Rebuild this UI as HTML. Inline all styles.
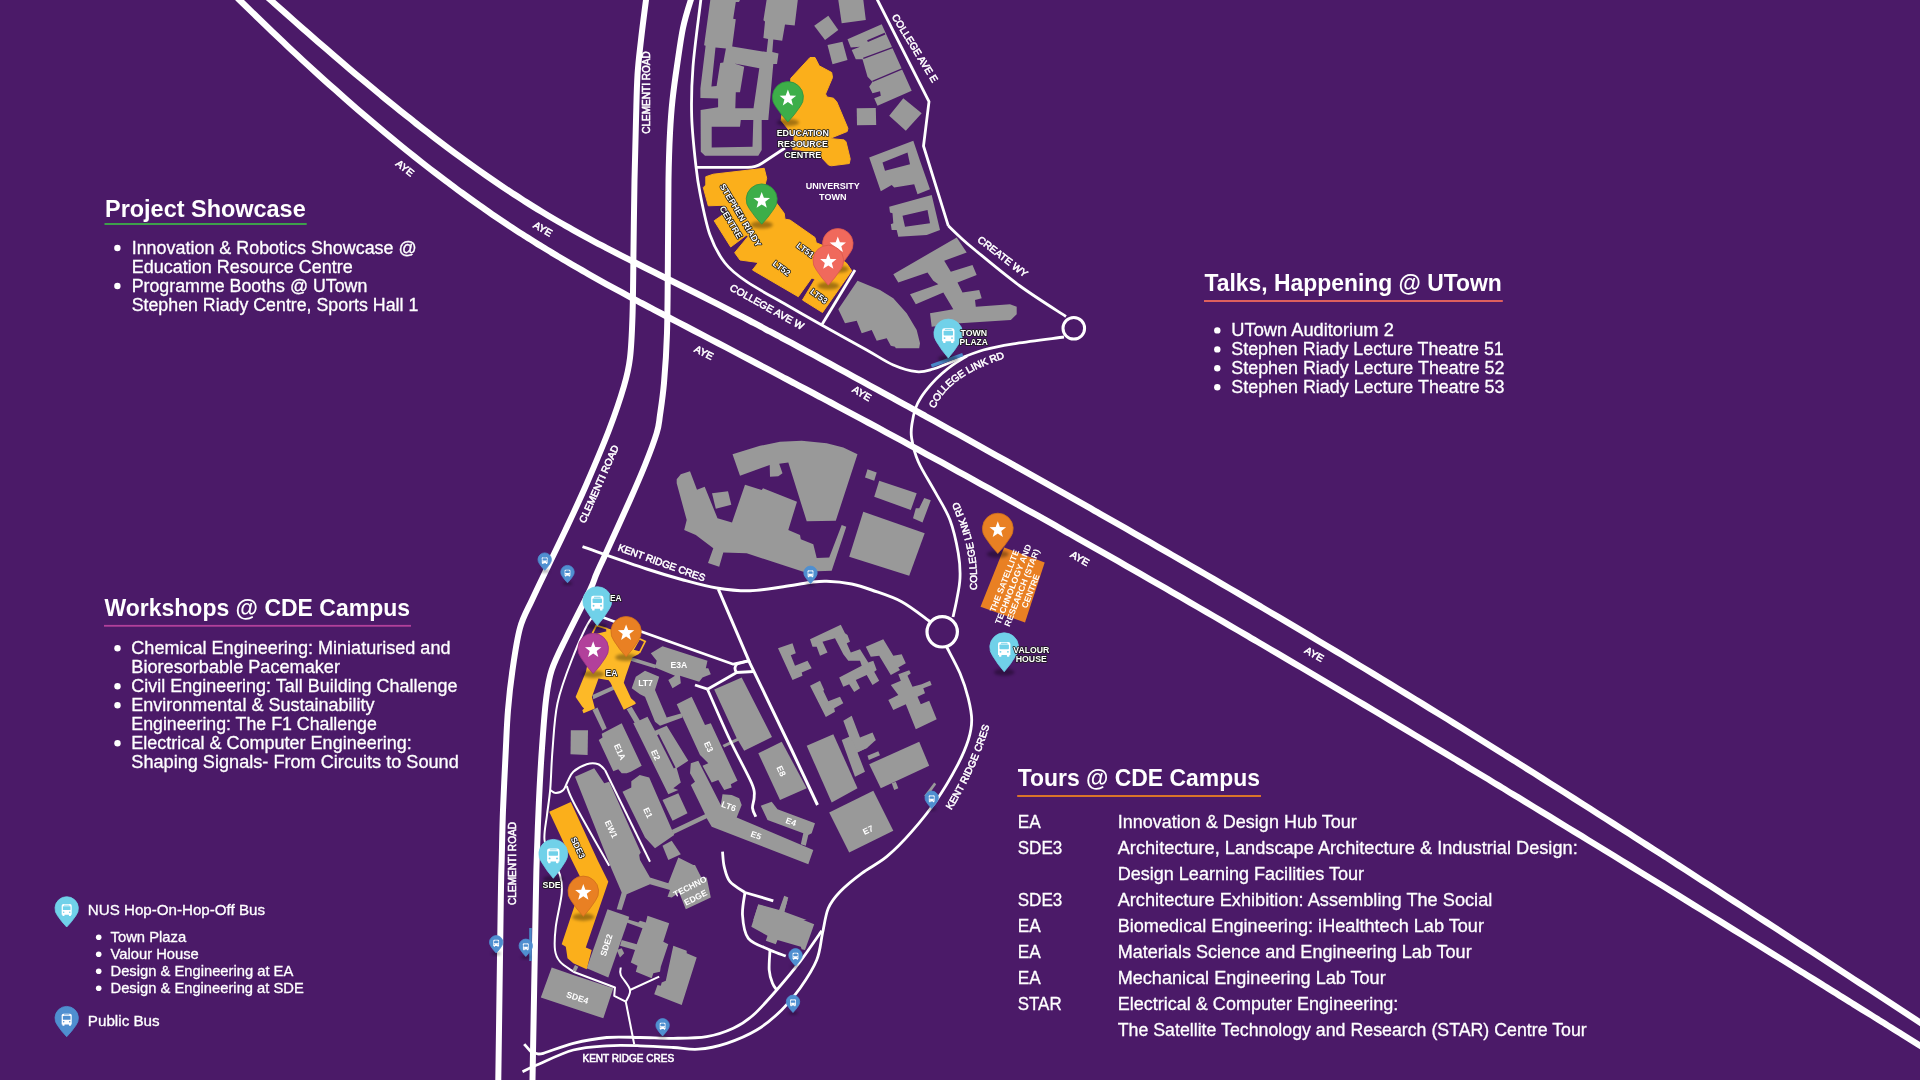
<!DOCTYPE html>
<html><head><meta charset="utf-8"><title>CDE Open House Map</title>
<style>html,body{margin:0;padding:0;background:#4B1A68;}body{width:1920px;height:1080px;overflow:hidden;font-family:"Liberation Sans",sans-serif;}svg{display:block;will-change:transform;}text{font-family:"Liberation Sans",sans-serif;}</style>
</head><body>
<svg width="1920" height="1080" viewBox="0 0 1920 1080">
<defs>
<filter id="blur1" x="-50%" y="-50%" width="200%" height="200%"><feGaussianBlur stdDeviation="1.6"/></filter>
<filter id="blur2" x="-50%" y="-50%" width="200%" height="200%"><feGaussianBlur stdDeviation="0.8"/></filter>
</defs>
<rect width="1920" height="1080" fill="#4B1A68"/>
<g id="grey">
<path d="M710.3 0.0 L704.1 45.3 L705.6 45.8 L700.4 88.5 L700.4 97.9 L718.1 98.4 L718.1 107.3 L700.6 110.0 L700.8 151.7 L705.0 155.8 L758.3 155.8 L761.7 150.0 L761.7 120.0 L768.3 120.0 L773.3 64.0 L777.0 64.1 L778.5 53.6 L772.3 52.1 L773.3 39.6 L782.2 40.8 L785.0 24.5 L794.7 25.5 L797.8 0.0 L766.6 0.0 L763.4 20.3 L765.0 21.4 L763.4 38.0 L768.1 39.1 L766.6 52.1 L732.2 46.4 L735.8 19.3 L733.2 18.8 L735.8 2.1 L739.0 2.1 L740.0 0.0 Z M715.5 47.4 L725.9 48.4 L723.3 62.5 L720.2 63.0 L716.6 85.9 L711.4 86.5 Z M734.3 63.5 L759.3 68.2 L753.5 108.3 L735.3 108.3 L735.8 92.2 L740.0 92.2 L744.2 66.7 Z M711.7 126.7 L740.0 126.7 L740.8 120.0 L753.3 120.0 L752.5 146.7 L711.7 147.5 Z" fill="#999999" fill-rule="evenodd"/>
<polygon points="814.2,25.8 828.3,15.8 838.3,30.0 825.0,40.0" fill="#999999" />
<polygon points="838.3,0.0 863.3,0.0 865.8,20.0 841.7,23.3" fill="#999999" />
<polygon points="827.5,45.0 842.5,41.7 847.5,60.0 832.5,64.2" fill="#999999" />
<polygon points="847.5,39.2 881.7,24.2 911.7,90.8 877.5,105.8 874.2,98.3 880.8,95.8 880.0,91.3 872.5,93.3 869.2,86.7 872.5,81.7 867.5,76.7 862.5,59.2 855.8,59.2 851.7,50.0 860.0,46.7 850.8,47.5" fill="#999999" />
<path d="M867.5 41.2 L885.0 33.7" fill="none" stroke="#4B1A68" stroke-width="1.80" stroke-linecap="butt" stroke-linejoin="round"/>
<path d="M863.3 58.3 L895.0 46.7" fill="none" stroke="#4B1A68" stroke-width="1.40" stroke-linecap="butt" stroke-linejoin="round"/>
<path d="M872.5 81.3 L903.3 68.3" fill="none" stroke="#4B1A68" stroke-width="1.40" stroke-linecap="butt" stroke-linejoin="round"/>
<polygon points="856.7,108.3 875.8,108.0 876.2,125.0 857.0,125.3" fill="#999999" />
<polygon points="889.2,115.8 903.3,98.3 921.7,113.3 905.8,130.8" fill="#999999" />
<path d="M869.2 157.5 L913.3 140.8 L920.0 160.8 L930.0 189.2 L917.5 194.2 L914.2 184.2 L894.2 187.5 L891.7 185.0 L880.8 191.3 Z M882.5 162.5 L907.5 152.5 L910.0 164.2 L885.0 170.8 Z" fill="#999999" fill-rule="evenodd"/>
<path d="M889.2 206.7 L931.7 195.0 L940.0 230.0 L926.7 235.0 L898.3 236.7 L896.7 230.0 L891.7 230.0 L890.8 224.2 L893.3 223.3 L892.5 213.3 L890.0 212.5 Z M902.5 215.8 L927.5 210.0 L930.0 223.3 L905.0 226.7 Z" fill="#999999" fill-rule="evenodd"/>
<polygon points="893.3,274.2 956.7,237.5 966.7,252.5 944.2,260.8 950.8,271.7 972.5,265.0 976.7,275.0 957.5,282.5 962.5,292.5 979.2,290.0 981.7,298.3 975.0,300.0 975.8,306.7 1010.0,304.2 1016.7,306.7 1016.7,314.2 1010.8,320.0 960.0,323.3 931.7,326.7 930.0,313.3 953.3,309.2 943.3,292.5 915.8,304.2 910.0,294.2 938.3,284.2 933.3,280.8 927.5,272.5 898.3,282.5" fill="#999999" />
<polygon points="838.3,309.2 857.5,280.8 880.0,290.0 893.3,298.3 906.7,313.3 916.7,330.0 920.0,343.3 919.2,348.3 895.8,348.3 895.0,346.7 890.8,345.8 886.7,338.3 876.7,340.8 871.7,330.0 861.7,333.3 856.7,320.8 845.0,323.3" fill="#999999" />
<polygon points="732.5,454.2 760.0,445.8 780.0,441.7 801.7,440.8 826.7,443.3 843.3,447.5 857.5,454.2 835.8,520.8 806.7,521.3 788.3,462.5 779.2,463.7 782.5,473.3 778.3,476.3 770.0,476.7 769.7,465.0 740.0,475.8" fill="#999999" />
<polygon points="676.7,479.2 680.8,474.2 690.0,471.3 697.0,489.7 704.7,486.7 717.5,518.3 732.0,522.5 745.0,484.7 761.7,490.0 763.0,488.3 797.0,501.7 788.3,530.0 800.0,535.0 800.8,539.2 813.3,544.2 816.7,558.0 829.2,557.5 841.7,525.0 846.3,526.7 831.7,570.8 803.3,571.7 746.7,553.3 723.3,552.5 719.2,566.7 708.0,563.0 713.3,548.3 695.8,535.0 684.2,530.0 686.7,520.0 676.7,483.3" fill="#999999" />
<polygon points="712.0,493.3 728.0,491.3 731.3,504.7 715.8,508.7" fill="#999999" />
<polygon points="867.5,469.2 876.7,472.5 874.2,480.8 865.0,477.5" fill="#999999" />
<polygon points="879.2,480.8 916.7,493.3 910.8,510.0 874.2,496.7" fill="#999999" />
<polygon points="924.2,498.0 930.8,500.3 922.5,522.5 913.0,518.3 915.8,508.3 919.2,508.3" fill="#999999" />
<polygon points="863.3,511.7 924.7,533.3 909.2,575.8 849.2,556.7" fill="#999999" />
<polygon points="778.0,648.3 792.5,643.3 795.8,653.3 790.8,655.3 795.0,665.8 807.5,660.8 811.7,668.3 801.7,672.5 802.5,675.8 792.5,680.0" fill="#999999" />
<polygon points="810.0,639.2 840.8,624.7 845.0,633.3 847.5,635.0 850.0,641.7 846.7,643.3 850.8,652.5 860.0,649.2 868.3,662.5 873.3,660.8 876.7,670.0 874.2,671.7 879.2,680.8 872.5,685.0 866.7,675.0 855.8,680.0 860.0,688.3 854.2,692.0 849.2,684.2 843.3,686.7 839.2,677.5 861.7,665.8 860.0,660.8 848.3,660.8 843.3,654.2 835.0,638.3 822.5,641.7 827.5,652.5 820.0,655.8 816.7,646.7 812.5,646.7" fill="#999999" />
<polygon points="865.8,646.7 883.3,639.2 893.3,655.8 901.7,654.2 905.8,663.3 898.3,667.5 900.0,670.0 890.8,675.0 879.2,655.8 870.8,656.7" fill="#999999" />
<polygon points="810.0,685.8 820.0,680.8 824.2,690.0 823.3,690.8 828.3,701.3 840.0,696.7 843.3,703.3 834.2,708.3 835.0,711.7 825.8,717.0" fill="#999999" />
<polygon points="898.3,674.2 909.2,670.3 910.8,673.3 907.5,675.8 912.5,686.7 921.7,684.2 930.0,680.8 931.7,685.0 923.3,688.3 925.0,693.3 917.5,696.7 920.8,704.2 929.2,700.8 936.7,719.2 915.8,729.2 905.8,704.2 893.3,710.0 888.3,700.0 898.3,695.0 890.8,685.0 900.8,680.8" fill="#999999" />
<polygon points="843.3,720.8 851.7,715.8 860.0,737.5 872.5,732.5 875.8,740.0 865.8,744.2 867.5,747.5 857.5,752.5 865.0,771.7 855.0,776.7 841.7,740.0 849.2,736.7" fill="#999999" />
<polygon points="650.8,653.3 662.5,646.3 707.5,660.8 705.8,668.3 708.3,668.3 710.8,674.2 702.5,677.5 699.2,681.7 680.0,675.8 680.8,683.3 672.5,688.3 668.3,680.0 675.0,675.8 655.0,667.5 656.7,660.8" fill="#999999" />
<polygon points="626.7,655.8 656.7,665.0 655.0,668.3 625.8,659.2" fill="#999999" />
<polygon points="631.7,688.3 635.8,676.7 645.0,670.8 659.2,676.7 655.0,690.0 666.7,717.5 681.7,713.3 682.5,717.5 660.0,725.8 655.0,721.7 645.0,696.7 640.0,694.2" fill="#999999" />
<polygon points="592.5,695.0 613.3,685.8 615.0,689.2 593.3,699.2" fill="#999999" />
<polygon points="570.8,730.2 588.0,730.2 587.6,755.0 570.5,754.3" fill="#999999" />
<polygon points="714.2,689.5 741.7,677.5 772.0,737.0 744.2,750.8 738.3,740.8 724.2,747.5 722.5,745.0 736.7,738.3" fill="#999999" />
<polygon points="598.7,740.0 602.5,737.5 601.7,733.7 621.7,723.3 641.7,765.8 630.8,771.7 626.7,773.3 621.7,773.3 618.3,769.2 613.3,771.3" fill="#999999" />
<polygon points="592.5,710.0 597.5,707.5 606.7,728.3 602.5,730.8" fill="#999999" />
<polygon points="626.7,709.2 631.7,706.7 640.0,720.8 635.0,723.3" fill="#999999" />
<polygon points="633.3,723.3 647.5,716.7 655.0,730.8 666.7,725.8 688.3,760.8 676.7,768.3 680.8,782.5 673.3,788.3 678.3,790.0 668.3,794.2" fill="#999999" />
<path d="M658.0 734.7 L674.7 768.0" fill="none" stroke="#4B1A68" stroke-width="2.00" stroke-linecap="butt" stroke-linejoin="round"/>
<polygon points="676.7,704.2 691.7,696.7 705.0,725.0 710.8,723.3 737.5,780.8 730.8,784.2 731.7,787.5 724.2,790.0 718.3,780.0 711.7,782.5 702.5,765.8 708.3,763.3 700.0,755.0" fill="#999999" />
<polygon points="690.8,763.3 698.3,760.8 720.8,805.0 722.5,794.2 731.7,795.0 739.2,798.3 741.7,805.0 736.7,817.5 813.3,850.0 808.3,864.2 711.7,826.7 706.7,818.3 673.3,834.2 671.7,830.0 705.0,814.2 690.8,785.0 695.0,781.7 690.0,773.3" fill="#999999" />
<polygon points="662.5,800.0 678.3,793.3 687.5,813.3 672.5,820.8" fill="#999999" />
<polygon points="662.5,845.8 671.7,840.8 680.8,854.2 668.3,860.0" fill="#999999" />
<polygon points="760.8,805.8 771.7,801.7 777.5,809.2 815.0,823.3 811.7,833.3 808.3,835.0 805.8,845.8 800.8,844.2 803.3,833.3 767.5,820.0" fill="#999999" />
<polygon points="622.5,791.7 631.3,787.5 631.3,781.3 639.7,775.0 649.2,777.5 674.2,835.0 655.0,848.3 645.0,837.5" fill="#999999" />
<polygon points="758.3,753.3 781.7,741.7 806.7,788.3 780.0,800.0" fill="#999999" />
<polygon points="806.7,745.8 833.3,734.2 857.5,788.3 831.7,802.5" fill="#999999" />
<polygon points="575.0,776.7 594.2,768.3 604.2,783.3 609.2,781.7 640.8,852.5 639.2,855.0 640.0,860.0 650.0,877.5 668.3,883.3 678.3,857.5 693.3,865.0 695.0,865.0 701.7,878.3 706.7,877.5 710.8,897.5 685.8,909.2 679.2,892.5 671.7,897.5 667.5,896.7 670.0,890.0 650.0,884.2 626.7,894.2 621.7,910.0 616.7,909.2 621.7,892.5 611.7,869.2" fill="#999999" />
<polygon points="607.5,909.2 629.2,916.7 628.3,920.0 608.3,977.5 586.7,968.3" fill="#999999" />
<polygon points="647.5,915.8 669.2,923.3 663.3,941.7 668.3,944.2 660.8,966.7 660.0,971.7 653.3,973.3 651.7,978.3 635.8,971.7 637.5,965.8 630.8,962.5 635.0,950.0 620.0,945.8 621.7,940.0 636.7,944.2 642.5,928.3 626.7,922.5 627.5,919.2 638.3,922.5 640.0,920.8 645.8,922.5" fill="#999999" />
<polygon points="616.7,950.0 621.7,948.3 624.2,953.3 620.0,957.5" fill="#999999" />
<polygon points="673.3,945.8 686.7,950.8 686.7,953.3 696.7,957.5 681.7,1005.0 654.2,994.2 657.5,985.0 660.8,985.8 661.7,982.5 665.8,980.8" fill="#999999" />
<polygon points="551.7,967.5 573.3,975.0 613.3,988.3 603.3,1018.3 540.8,997.5" fill="#999999" />
<polygon points="572.5,970.0 575.0,965.0 578.3,966.7 575.8,971.7" fill="#999999" />
<polygon points="869.2,764.2 919.2,741.7 929.2,765.8 880.8,788.3" fill="#999999" />
<polygon points="891.7,783.3 895.8,781.7 898.3,788.3 894.2,790.0" fill="#999999" />
<polygon points="867.5,755.8 878.3,751.3 880.0,755.3 868.8,760.0" fill="#999999" />
<polygon points="851.7,740.0 875.8,740.0 866.7,748.3 858.3,751.7" fill="#999999" />
<polygon points="829.2,812.5 873.3,790.8 893.3,830.8 849.2,852.5" fill="#999999" />
<polygon points="924.2,795.8 934.2,782.5 936.2,784.2 926.7,797.5" fill="#999999" />
<polygon points="751.3,926.7 758.3,904.7 779.2,910.8 783.3,900.0 787.5,900.0 784.2,912.5 814.2,924.2 805.0,950.0 801.7,949.2 800.8,946.7 777.5,940.0 775.8,944.2 765.8,940.8 767.5,935.8" fill="#999999" />
<polygon points="753.3,920.0 758.3,904.2 779.2,910.0 784.2,895.8 788.3,897.5 784.2,911.7 806.7,920.0" fill="#999999" />
</g>
<g id="orange">
<polygon points="790.8,78.3 810.0,57.5 815.0,57.5 819.2,65.8 831.7,72.5 832.5,77.5 825.5,94.0 827.0,97.0 833.5,98.2 836.8,101.9 847.9,128.3 847.2,131.5 829.8,138.5 844.2,139.9 846.0,141.8 850.2,158.9 849.3,163.5 831.2,165.8 828.4,164.9 821.5,157.5 800.0,150.0 792.8,149.6 794.2,136.7 781.2,120.5 782.0,114.0 790.0,105.0" fill="#FBAF1B" stroke="#FBAF1B" stroke-width="1" stroke-linejoin="round"/>
<polygon points="705.8,176.7 713.3,174.2 764.2,168.3 766.7,178.3 765.0,185.0 776.7,203.3 784.2,213.3 785.0,219.2 790.0,220.0 815.0,237.5 816.3,242.8 822.5,245.3 846.7,263.3 851.7,270.8 822.5,312.5 802.5,300.0 815.0,279.2 811.7,278.0 798.3,296.7 752.5,270.0 758.3,262.5 740.0,260.0 734.7,252.7 748.3,236.2 746.3,235.3 730.7,247.0 714.2,220.8 726.7,212.0 722.5,205.3 708.3,205.8 703.3,187.5 705.8,185.0" fill="#FBAF1B" stroke="#FBAF1B" stroke-width="1" stroke-linejoin="round"/>
<polygon points="1004.2,547.5 1044.7,562.5 1025.0,622.5 980.5,606.7" fill="#E98023" />
<polygon points="575.6,697.1 585.9,671.8 591.9,642.9 594.3,635.7 608.1,628.5 611.7,629.7 637.0,644.8 639.4,653.8 632.2,657.4 625.6,676.6 623.8,682.7 631.0,698.3 635.2,701.9 635.8,703.7 623.8,709.7 610.5,682.7 608.7,680.3 598.5,678.4 591.9,697.1 594.9,708.5 583.5,713.3 582.3,710.3 584.1,708.5 582.3,706.7" fill="#FDB927" />
<polygon points="592.5,633.1 596.3,625.5 606.9,628.7 607.2,632.1 596.1,634.8" fill="#4B1A68" stroke="#FDB927" stroke-width="1.7"/>
<polygon points="639.4,638.7 645.2,641.5 639.7,652.3 632.8,650.2" fill="#4B1A68" stroke="#FDB927" stroke-width="1.7"/>
<polygon points="549.2,811.7 570.8,802.0 597.5,860.0 608.3,881.7 585.8,947.5 591.7,950.0 586.7,969.2 573.3,963.3 567.5,958.3 565.8,946.7 561.7,944.2 582.5,881.7 571.7,860.0" fill="#FBAF1B" />
</g>
<g id="roads">
<path d="M254.0 -14.8 C256.7 -12.4 264.7 -5.3 270.0 -0.5 C275.3 4.3 280.7 9.0 286.0 13.7 C291.3 18.4 296.7 23.1 302.0 27.8 C307.3 32.5 312.7 37.2 318.0 41.8 C323.3 46.4 328.7 51.0 334.0 55.6 C339.3 60.2 344.7 64.8 350.0 69.3 C355.3 73.8 360.7 78.3 366.0 82.7 C371.3 87.2 376.7 91.6 382.0 96.0 C387.3 100.4 392.7 104.7 398.0 109.0 C403.3 113.3 408.7 117.5 414.0 121.7 C419.3 126.0 424.7 130.1 430.0 134.2 C435.3 138.3 440.7 142.4 446.0 146.4 C451.3 150.4 456.7 154.4 462.0 158.2 C467.3 162.1 472.7 166.0 478.0 169.8 C483.3 173.5 488.7 177.2 494.0 180.9 C499.3 184.5 504.7 188.1 510.0 191.7 C515.3 195.2 520.7 198.6 526.0 202.0 C531.3 205.4 536.7 208.7 542.0 211.9 C547.3 215.1 552.7 218.3 558.0 221.4 C563.3 224.5 568.7 227.5 574.0 230.5 C579.3 233.5 584.7 236.4 590.0 239.2 C595.3 242.1 600.7 244.9 606.0 247.7 C611.3 250.5 616.7 253.3 622.0 256.0 C627.3 258.7 632.7 261.4 638.0 264.1 C643.3 266.8 648.7 269.5 654.0 272.1 C659.3 274.8 664.7 277.5 670.0 280.1 C675.3 282.8 680.7 285.4 686.0 288.1 C691.3 290.8 696.7 293.4 702.0 296.1 C707.3 298.8 712.7 301.6 718.0 304.3 C723.3 307.0 728.7 309.8 734.0 312.6 C739.3 315.3 744.7 318.1 750.0 320.9 C755.3 323.7 760.7 326.5 766.0 329.4 C771.3 332.2 776.7 335.0 782.0 337.9 C787.3 340.7 792.7 343.6 798.0 346.5 C803.3 349.3 808.7 352.2 814.0 355.1 C819.3 358.0 824.7 360.9 830.0 363.8 C835.3 366.7 840.7 369.6 846.0 372.5 C851.3 375.4 856.7 378.4 862.0 381.3 C867.3 384.2 872.7 387.1 878.0 390.0 C883.3 393.0 888.7 395.9 894.0 398.8 C899.3 401.8 904.7 404.7 910.0 407.6 C915.3 410.6 920.7 413.5 926.0 416.4 C931.3 419.4 936.7 422.3 942.0 425.3 C947.3 428.2 952.7 431.2 958.0 434.1 C963.3 437.1 968.7 440.1 974.0 443.0 C979.3 446.0 984.7 449.0 990.0 451.9 C995.3 454.9 1000.7 457.9 1006.0 460.8 C1011.3 463.8 1016.7 466.8 1022.0 469.8 C1027.3 472.8 1032.7 475.8 1038.0 478.8 C1043.3 481.8 1048.7 484.8 1054.0 487.8 C1059.3 490.8 1064.7 493.8 1070.0 496.8 C1075.3 499.8 1080.7 502.8 1086.0 505.8 C1091.3 508.9 1096.7 511.9 1102.0 514.9 C1107.3 517.9 1112.7 521.0 1118.0 524.0 C1123.3 527.1 1128.7 530.1 1134.0 533.2 C1139.3 536.2 1144.7 539.3 1150.0 542.3 C1155.3 545.4 1160.7 548.4 1166.0 551.5 C1171.3 554.6 1176.7 557.7 1182.0 560.7 C1187.3 563.8 1192.7 566.9 1198.0 570.0 C1203.3 573.1 1208.7 576.2 1214.0 579.3 C1219.3 582.4 1224.7 585.5 1230.0 588.6 C1235.3 591.7 1240.7 594.9 1246.0 598.0 C1251.3 601.1 1256.7 604.2 1262.0 607.4 C1267.3 610.5 1272.7 613.7 1278.0 616.8 C1283.3 620.0 1288.7 623.1 1294.0 626.3 C1299.3 629.5 1304.7 632.6 1310.0 635.8 C1315.3 639.0 1320.7 642.2 1326.0 645.4 C1331.3 648.5 1336.7 651.7 1342.0 654.9 C1347.3 658.1 1352.7 661.4 1358.0 664.6 C1363.3 667.8 1368.7 671.0 1374.0 674.2 C1379.3 677.5 1384.7 680.7 1390.0 684.0 C1395.3 687.2 1400.7 690.5 1406.0 693.7 C1411.3 697.0 1416.7 700.2 1422.0 703.5 C1427.3 706.8 1432.7 710.1 1438.0 713.4 C1443.3 716.6 1448.7 719.9 1454.0 723.2 C1459.3 726.5 1464.7 729.9 1470.0 733.2 C1475.3 736.5 1480.7 739.8 1486.0 743.1 C1491.3 746.4 1496.7 749.8 1502.0 753.1 C1507.3 756.5 1512.7 759.8 1518.0 763.1 C1523.3 766.5 1528.7 769.9 1534.0 773.2 C1539.3 776.6 1544.7 779.9 1550.0 783.3 C1555.3 786.7 1560.7 790.1 1566.0 793.4 C1571.3 796.8 1576.7 800.2 1582.0 803.6 C1587.3 807.0 1592.7 810.4 1598.0 813.8 C1603.3 817.2 1608.7 820.6 1614.0 824.0 C1619.3 827.4 1624.7 830.8 1630.0 834.2 C1635.3 837.6 1640.7 841.0 1646.0 844.5 C1651.3 847.9 1656.7 851.3 1662.0 854.7 C1667.3 858.2 1672.7 861.6 1678.0 865.0 C1683.3 868.5 1688.7 871.9 1694.0 875.4 C1699.3 878.8 1704.7 882.3 1710.0 885.7 C1715.3 889.1 1720.7 892.6 1726.0 896.1 C1731.3 899.5 1736.7 903.0 1742.0 906.4 C1747.3 909.9 1752.7 913.3 1758.0 916.8 C1763.3 920.3 1768.7 923.7 1774.0 927.2 C1779.3 930.7 1784.7 934.1 1790.0 937.6 C1795.3 941.1 1800.7 944.5 1806.0 948.0 C1811.3 951.5 1816.7 955.0 1822.0 958.4 C1827.3 961.9 1832.7 965.4 1838.0 968.9 C1843.3 972.3 1848.7 975.8 1854.0 979.3 C1859.3 982.8 1864.7 986.3 1870.0 989.7 C1875.3 993.2 1880.7 996.7 1886.0 1000.2 C1891.3 1003.7 1896.7 1007.1 1902.0 1010.6 C1907.3 1014.1 1912.7 1017.6 1918.0 1021.1 C1923.3 1024.5 1928.7 1028.0 1934.0 1031.5 C1939.3 1035.0 1947.3 1040.2 1950.0 1041.9" fill="none" stroke="#fff" stroke-width="6.30" stroke-linecap="butt" stroke-linejoin="round"/>
<path d="M222.0 -17.4 C224.7 -14.8 232.7 -6.8 238.0 -1.5 C243.3 3.7 248.7 9.0 254.0 14.1 C259.3 19.3 264.7 24.5 270.0 29.6 C275.3 34.7 280.7 39.7 286.0 44.7 C291.3 49.8 296.7 54.7 302.0 59.7 C307.3 64.6 312.7 69.5 318.0 74.3 C323.3 79.2 328.7 84.0 334.0 88.7 C339.3 93.5 344.7 98.2 350.0 102.9 C355.3 107.5 360.7 112.1 366.0 116.7 C371.3 121.2 376.7 125.7 382.0 130.2 C387.3 134.7 392.7 139.1 398.0 143.4 C403.3 147.8 408.7 152.1 414.0 156.3 C419.3 160.5 424.7 164.7 430.0 168.9 C435.3 173.0 440.7 177.1 446.0 181.1 C451.3 185.1 456.7 189.0 462.0 192.9 C467.3 196.8 472.7 200.7 478.0 204.4 C483.3 208.2 488.7 211.9 494.0 215.6 C499.3 219.2 504.7 222.8 510.0 226.3 C515.3 229.9 520.7 233.3 526.0 236.7 C531.3 240.1 536.7 243.4 542.0 246.7 C547.3 250.0 552.7 253.2 558.0 256.4 C563.3 259.6 568.7 262.7 574.0 265.8 C579.3 268.9 584.7 271.9 590.0 274.9 C595.3 277.9 600.7 280.9 606.0 283.9 C611.3 286.8 616.7 289.7 622.0 292.6 C627.3 295.5 632.7 298.3 638.0 301.2 C643.3 304.0 648.7 306.8 654.0 309.7 C659.3 312.5 664.7 315.3 670.0 318.1 C675.3 320.9 680.7 323.6 686.0 326.4 C691.3 329.2 696.7 332.0 702.0 334.8 C707.3 337.6 712.7 340.3 718.0 343.1 C723.3 345.9 728.7 348.7 734.0 351.5 C739.3 354.3 744.7 357.1 750.0 359.9 C755.3 362.7 760.7 365.5 766.0 368.3 C771.3 371.1 776.7 373.9 782.0 376.7 C787.3 379.5 792.7 382.3 798.0 385.2 C803.3 388.0 808.7 390.8 814.0 393.6 C819.3 396.5 824.7 399.3 830.0 402.1 C835.3 405.0 840.7 407.8 846.0 410.7 C851.3 413.5 856.7 416.4 862.0 419.2 C867.3 422.1 872.7 425.0 878.0 427.8 C883.3 430.7 888.7 433.6 894.0 436.5 C899.3 439.4 904.7 442.3 910.0 445.2 C915.3 448.1 920.7 451.0 926.0 453.9 C931.3 456.8 936.7 459.7 942.0 462.6 C947.3 465.5 952.7 468.5 958.0 471.4 C963.3 474.3 968.7 477.3 974.0 480.2 C979.3 483.2 984.7 486.1 990.0 489.1 C995.3 492.0 1000.7 495.0 1006.0 498.0 C1011.3 500.9 1016.7 503.9 1022.0 506.9 C1027.3 509.9 1032.7 512.9 1038.0 515.8 C1043.3 518.8 1048.7 521.8 1054.0 524.8 C1059.3 527.8 1064.7 530.8 1070.0 533.9 C1075.3 536.9 1080.7 539.9 1086.0 542.9 C1091.3 545.9 1096.7 549.0 1102.0 552.0 C1107.3 555.0 1112.7 558.1 1118.0 561.1 C1123.3 564.1 1128.7 567.2 1134.0 570.2 C1139.3 573.3 1144.7 576.4 1150.0 579.4 C1155.3 582.5 1160.7 585.5 1166.0 588.6 C1171.3 591.7 1176.7 594.8 1182.0 597.8 C1187.3 600.9 1192.7 604.0 1198.0 607.1 C1203.3 610.2 1208.7 613.3 1214.0 616.4 C1219.3 619.5 1224.7 622.6 1230.0 625.7 C1235.3 628.8 1240.7 631.9 1246.0 635.0 C1251.3 638.2 1256.7 641.3 1262.0 644.4 C1267.3 647.5 1272.7 650.7 1278.0 653.8 C1283.3 656.9 1288.7 660.1 1294.0 663.2 C1299.3 666.3 1304.7 669.5 1310.0 672.6 C1315.3 675.8 1320.7 678.9 1326.0 682.1 C1331.3 685.3 1336.7 688.4 1342.0 691.6 C1347.3 694.8 1352.7 697.9 1358.0 701.1 C1363.3 704.3 1368.7 707.5 1374.0 710.6 C1379.3 713.8 1384.7 717.0 1390.0 720.2 C1395.3 723.4 1400.7 726.6 1406.0 729.8 C1411.3 733.0 1416.7 736.2 1422.0 739.4 C1427.3 742.6 1432.7 745.8 1438.0 749.0 C1443.3 752.2 1448.7 755.4 1454.0 758.6 C1459.3 761.8 1464.7 765.0 1470.0 768.3 C1475.3 771.5 1480.7 774.7 1486.0 777.9 C1491.3 781.2 1496.7 784.4 1502.0 787.6 C1507.3 790.9 1512.7 794.1 1518.0 797.3 C1523.3 800.6 1528.7 803.8 1534.0 807.1 C1539.3 810.3 1544.7 813.6 1550.0 816.8 C1555.3 820.1 1560.7 823.3 1566.0 826.6 C1571.3 829.8 1576.7 833.1 1582.0 836.3 C1587.3 839.6 1592.7 842.9 1598.0 846.1 C1603.3 849.4 1608.7 852.7 1614.0 855.9 C1619.3 859.2 1624.7 862.5 1630.0 865.8 C1635.3 869.0 1640.7 872.3 1646.0 875.6 C1651.3 878.9 1656.7 882.2 1662.0 885.4 C1667.3 888.7 1672.7 892.0 1678.0 895.3 C1683.3 898.6 1688.7 901.9 1694.0 905.2 C1699.3 908.5 1704.7 911.8 1710.0 915.1 C1715.3 918.4 1720.7 921.7 1726.0 925.0 C1731.3 928.3 1736.7 931.6 1742.0 934.9 C1747.3 938.2 1752.7 941.5 1758.0 944.8 C1763.3 948.1 1768.7 951.4 1774.0 954.7 C1779.3 958.0 1784.7 961.3 1790.0 964.6 C1795.3 968.0 1800.7 971.3 1806.0 974.6 C1811.3 977.9 1816.7 981.2 1822.0 984.5 C1827.3 987.9 1832.7 991.2 1838.0 994.5 C1843.3 997.8 1848.7 1001.1 1854.0 1004.5 C1859.3 1007.8 1864.7 1011.1 1870.0 1014.4 C1875.3 1017.8 1880.7 1021.1 1886.0 1024.4 C1891.3 1027.8 1896.7 1031.1 1902.0 1034.4 C1907.3 1037.7 1912.7 1041.1 1918.0 1044.4 C1923.3 1047.7 1928.7 1051.1 1934.0 1054.4 C1939.3 1057.7 1947.3 1062.7 1950.0 1064.4" fill="none" stroke="#fff" stroke-width="6.30" stroke-linecap="butt" stroke-linejoin="round"/>
<path d="M648.0 -15.0 C647.7 -12.5 647.2 -9.2 646.0 0.0 C644.8 9.2 642.4 27.5 641.0 40.0 C639.6 52.5 638.3 61.7 637.5 75.0 C636.7 88.3 636.5 102.5 636.0 120.0 C635.5 137.5 634.9 158.3 634.5 180.0 C634.1 201.7 633.8 227.3 633.5 250.0 C633.2 272.7 633.1 298.0 632.5 316.0 C631.9 334.0 631.4 346.3 630.0 358.0 C628.6 369.7 627.5 374.0 624.0 386.0 C620.5 398.0 615.2 413.8 609.0 430.0 C602.8 446.2 594.2 466.3 587.0 483.0 C579.8 499.7 572.0 516.2 565.5 530.0 C559.0 543.8 553.8 554.3 548.2 566.0 C542.6 577.7 536.7 589.7 532.0 600.0 C527.3 610.3 523.2 616.3 520.0 628.0 C516.8 639.7 514.5 656.3 512.5 670.0 C510.5 683.7 509.1 696.7 508.0 710.0 C506.9 723.3 506.6 733.3 505.8 750.0 C505.0 766.7 503.7 791.7 503.0 810.0 C502.3 828.3 502.1 845.0 501.7 860.0 C501.3 875.0 501.4 863.3 500.8 900.0 C500.2 936.7 498.8 1047.5 498.3 1080.0 C497.8 1112.5 498.1 1092.5 498.0 1095.0" fill="none" stroke="#fff" stroke-width="6.00" stroke-linecap="butt" stroke-linejoin="round"/>
<path d="M697.0 -15.0 C696.0 -12.5 693.1 -7.2 690.8 0.0 C688.5 7.2 685.3 17.0 683.0 28.0 C680.7 39.0 678.8 54.0 677.0 66.0 C675.2 78.0 673.7 88.8 672.5 100.0 C671.3 111.2 670.7 119.7 670.0 133.0 C669.3 146.3 668.8 161.7 668.5 180.0 C668.2 198.3 668.2 217.5 668.0 243.0 C667.8 268.5 667.7 309.7 667.0 333.0 C666.3 356.3 665.2 369.3 664.0 383.0 C662.8 396.7 661.2 406.7 660.0 415.0 C658.8 423.3 659.2 424.7 656.7 433.0 C654.2 441.3 649.5 453.8 645.0 465.0 C640.5 476.2 636.8 484.7 630.0 500.0 C623.2 515.3 610.0 544.2 604.3 556.7 C598.6 569.2 598.4 569.5 596.0 575.0 C593.6 580.5 594.9 579.7 590.0 590.0 C585.1 600.3 573.1 623.4 566.7 636.7 C560.3 650.0 555.2 659.5 551.7 670.0 C548.2 680.5 547.6 687.0 546.0 700.0 C544.4 713.0 543.2 731.3 542.0 748.0 C540.8 764.7 539.9 781.3 539.0 800.0 C538.1 818.7 537.2 843.3 536.7 860.0 C536.2 876.7 536.5 863.3 535.8 900.0 C535.1 936.7 533.1 1047.5 532.5 1080.0 C531.9 1112.5 532.1 1092.5 532.0 1095.0" fill="none" stroke="#fff" stroke-width="6.00" stroke-linecap="butt" stroke-linejoin="round"/>
<path d="M702.0 -12.0 C701.8 -10.0 702.3 -13.1 700.8 0.0 C699.3 13.1 694.5 47.2 693.0 66.7 C691.5 86.2 691.2 100.0 691.7 116.7 C692.2 133.4 694.6 154.0 696.0 166.7 C697.4 179.4 697.7 181.6 700.0 193.0 C702.3 204.4 705.8 223.3 710.0 235.0 C714.2 246.7 718.9 255.2 725.0 263.0 C731.1 270.8 736.4 274.7 746.7 281.7 C757.0 288.7 774.2 297.8 786.7 305.0 C799.2 312.2 808.4 317.5 821.7 325.0 C835.0 332.5 854.8 343.3 866.7 350.0 C878.6 356.7 885.0 361.4 893.3 365.0 C901.6 368.6 910.0 371.0 916.7 371.7 C923.4 372.4 927.8 370.5 933.3 369.0 C938.8 367.5 941.7 365.7 950.0 362.5 C958.3 359.3 972.2 353.2 983.3 350.0 C994.4 346.8 1003.2 345.5 1016.7 343.3 C1030.2 341.1 1056.1 338.1 1064.0 337.0" fill="none" stroke="#fff" stroke-width="2.80" stroke-linecap="butt" stroke-linejoin="round"/>
<path d="M696.7 167.3 L748 167.3 Q755.5 167.3 762 163.2 L785 148" fill="none" stroke="#fff" stroke-width="2.8"/>
<path d="M872.0 -11.0 L877.5 0.0 L929.0 101.7 L923.5 146.0 L948.3 225.8" fill="none" stroke="#fff" stroke-width="2.80" stroke-linecap="butt" stroke-linejoin="round"/>
<path d="M948.3 225.8 C950.2 227.7 955.5 233.0 960.0 237.0 C964.5 241.0 965.0 241.8 975.0 250.0 C985.0 258.2 1004.8 274.9 1020.0 286.0 C1035.2 297.1 1058.3 311.4 1066.0 316.5" fill="none" stroke="#fff" stroke-width="2.80" stroke-linecap="butt" stroke-linejoin="round"/>
<circle cx="1073.8" cy="328.3" r="10.8" fill="none" stroke="#fff" stroke-width="3"/>
<path d="M967.0 356.0 C964.5 357.6 956.3 362.4 952.1 365.4 C947.9 368.4 945.2 370.7 941.7 373.8 C938.2 376.9 934.8 380.2 931.3 384.2 C927.8 388.2 923.4 393.7 920.8 397.7 C918.2 401.7 917.1 403.8 915.6 408.1 C914.1 412.5 912.7 418.8 912.0 423.8 C911.3 428.8 910.6 431.7 911.6 438.0 C912.6 444.3 914.4 452.8 918.3 461.7 C922.2 470.6 929.7 482.0 935.0 491.7 C940.3 501.4 946.1 509.7 950.0 520.0 C953.9 530.3 956.6 543.6 958.3 553.3 C960.0 563.0 960.3 570.2 960.0 578.0 C959.7 585.8 957.9 593.5 956.7 600.0 C955.5 606.5 953.6 614.2 953.0 617.0" fill="none" stroke="#fff" stroke-width="2.80" stroke-linecap="butt" stroke-linejoin="round"/>
<path d="M855.0 270.0 L821.7 325.0" fill="none" stroke="#fff" stroke-width="2.80" stroke-linecap="butt" stroke-linejoin="round"/>
<circle cx="942.2" cy="631.8" r="15.2" fill="none" stroke="#fff" stroke-width="3.2"/>
<path d="M582.5 546.7 C593.2 550.4 629.9 563.5 646.7 569.0 C663.5 574.5 671.6 576.8 683.3 580.0 C695.0 583.2 705.6 586.2 716.7 588.0 C727.8 589.8 738.9 591.0 750.0 590.8 C761.1 590.6 773.3 588.1 783.3 586.7 C793.3 585.3 802.8 583.4 810.0 582.5 C817.2 581.6 819.8 581.0 826.7 581.3 C833.7 581.5 844.2 582.5 851.7 584.0 C859.2 585.5 863.4 587.0 871.7 590.0 C880.0 593.0 892.0 596.5 901.7 601.7 C911.4 607.0 925.3 618.2 930.0 621.5" fill="none" stroke="#fff" stroke-width="3.00" stroke-linecap="butt" stroke-linejoin="round"/>
<path d="M946.7 647.0 C948.9 651.4 956.4 664.8 960.0 673.3 C963.6 681.8 966.3 690.5 968.3 698.3 C970.2 706.1 971.7 713.0 971.7 720.0 C971.7 727.0 970.8 732.2 968.3 740.0 C965.8 747.8 962.0 756.7 956.7 766.7 C951.4 776.7 944.2 789.2 936.7 800.0 C929.2 810.8 920.0 822.2 911.7 831.7 C903.4 841.2 895.0 849.8 886.7 856.7 C878.4 863.6 869.5 867.5 861.7 873.3 C853.9 879.1 845.6 885.9 840.0 891.7 C834.4 897.5 831.2 901.4 828.3 908.3 C825.4 915.2 824.4 924.7 822.5 933.3 C820.6 941.9 820.5 950.8 816.7 960.0 C813.0 969.2 805.8 980.0 800.0 988.3 C794.2 996.6 788.9 1003.0 781.7 1010.0 C774.5 1017.0 765.9 1024.5 756.7 1030.0 C747.5 1035.5 736.4 1040.1 726.7 1043.3 C717.0 1046.5 707.2 1048.5 698.3 1049.2 C689.4 1049.9 683.0 1048.1 673.3 1047.5 C663.6 1046.9 651.1 1046.1 640.0 1045.8 C628.9 1045.5 617.8 1045.1 606.7 1045.8 C595.6 1046.5 585.0 1046.8 573.3 1050.0 C561.6 1053.2 545.2 1061.4 536.7 1065.0 C528.2 1068.6 524.9 1070.6 522.5 1071.7" fill="none" stroke="#fff" stroke-width="2.80" stroke-linecap="butt" stroke-linejoin="round"/>
<path d="M821.7 930.8 C818.1 935.9 807.5 951.8 800.0 961.7 C792.5 971.6 784.5 981.1 776.7 990.0 C768.9 998.9 760.5 1008.6 753.3 1015.0 C746.1 1021.4 741.1 1024.7 733.3 1028.3 C725.5 1031.9 716.7 1035.0 706.7 1036.7 C696.7 1038.4 684.4 1038.2 673.3 1038.3 C662.2 1038.4 651.1 1037.6 640.0 1037.5 C628.9 1037.4 617.8 1036.5 606.7 1037.5 C595.6 1038.5 583.9 1040.7 573.3 1043.3 C562.7 1045.9 549.5 1051.6 543.3 1053.3 C537.0 1055.0 537.0 1053.3 535.8 1053.3" fill="none" stroke="#fff" stroke-width="2.80" stroke-linecap="butt" stroke-linejoin="round"/>
<path d="M524.2 1044.2 L530.8 1051.7" fill="none" stroke="#fff" stroke-width="2.80" stroke-linecap="butt" stroke-linejoin="round"/>
<path d="M722.5 851.7 C722.8 854.2 723.0 861.7 724.2 866.7 C725.5 871.7 726.5 877.4 730.0 881.7 C733.5 886.0 742.5 890.7 745.0 892.5" fill="none" stroke="#fff" stroke-width="2.80" stroke-linecap="butt" stroke-linejoin="round"/>
<path d="M745.0 892.5 C744.6 896.2 742.0 907.4 742.5 915.0 C743.0 922.6 743.7 932.5 748.3 938.3 C752.9 944.1 763.8 947.0 770.0 950.0 C776.2 953.0 783.2 955.0 785.8 956.0" fill="none" stroke="#fff" stroke-width="2.80" stroke-linecap="butt" stroke-linejoin="round"/>
<path d="M745.0 892.5 L773.3 900.8" fill="none" stroke="#fff" stroke-width="2.80" stroke-linecap="butt" stroke-linejoin="round"/>
<path d="M770.0 950.0 C769.9 953.3 768.8 964.5 769.2 970.0 C769.6 975.5 771.2 980.0 772.5 983.3 C773.8 986.6 776.0 988.9 776.7 990.0" fill="none" stroke="#fff" stroke-width="2.80" stroke-linecap="butt" stroke-linejoin="round"/>
<path d="M718.3 589.2 L750.0 663.3 L791.7 750.0 L817.5 805.0" fill="none" stroke="#fff" stroke-width="3.00" stroke-linecap="butt" stroke-linejoin="round"/>
<path d="M695.0 685.0 L707.5 689.2" fill="none" stroke="#fff" stroke-width="2.80" stroke-linecap="butt" stroke-linejoin="round"/>
<path d="M707.5 689.2 C711.2 697.7 722.6 724.3 730.0 740.0 C737.4 755.7 747.7 773.8 751.7 783.3 C755.7 792.8 754.1 792.6 754.2 796.7 C754.3 800.8 752.2 804.7 752.5 808.0 C752.8 811.3 755.2 815.2 755.8 816.7" fill="none" stroke="#fff" stroke-width="2.80" stroke-linecap="butt" stroke-linejoin="round"/>
<path d="M736.7 672.5 L707.5 689.2" fill="none" stroke="#fff" stroke-width="2.80" stroke-linecap="butt" stroke-linejoin="round"/>
<path d="M603.3 617.5 L641.7 631.7 L733.3 664.2 L748.3 660.8" fill="none" stroke="#fff" stroke-width="2.80" stroke-linecap="butt" stroke-linejoin="round"/>
<path d="M748.3 660.8 L737 664 Q733 668 736.7 672.5 L753.5 671.5" fill="none" stroke="#fff" stroke-width="2.8"/>
<path d="M603.0 617.5 C601.0 617.8 596.0 612.1 590.8 619.2 C585.6 626.3 577.2 646.0 571.7 660.0 C566.2 674.0 560.7 688.3 557.5 703.3 C554.3 718.3 553.7 735.8 552.5 750.0 C551.3 764.2 551.2 777.5 550.3 788.3 C549.4 799.1 548.0 806.4 547.0 815.0 C546.0 823.6 543.7 832.5 544.5 840.0 C545.3 847.5 549.4 854.2 552.0 860.0 C554.6 865.8 558.4 869.5 560.0 875.0 C561.6 880.5 562.4 884.7 561.7 893.3 C561.0 901.9 556.9 917.2 555.8 926.7 C554.7 936.2 554.3 944.2 555.0 950.0 C555.7 955.8 557.0 958.1 560.0 961.7 C563.0 965.3 571.1 970.0 573.3 971.7" fill="none" stroke="#fff" stroke-width="2.00" stroke-linecap="butt" stroke-linejoin="round"/>
<path d="M573.3 971.7 L615.0 987.5 L614.2 995.8 L625.8 1001.7" fill="none" stroke="#fff" stroke-width="2.00" stroke-linecap="butt" stroke-linejoin="round"/>
<path d="M625.8 1001.7 C626.5 999.8 630.8 994.5 630.0 990.0 C629.2 985.5 622.3 978.8 620.8 975.0 C619.3 971.2 620.8 968.8 620.8 967.5" fill="none" stroke="#fff" stroke-width="2.00" stroke-linecap="butt" stroke-linejoin="round"/>
<path d="M630.0 990.0 L659.2 976.7" fill="none" stroke="#fff" stroke-width="2.00" stroke-linecap="butt" stroke-linejoin="round"/>
<path d="M625.8 1001.7 L634.2 1044.2" fill="none" stroke="#fff" stroke-width="2.00" stroke-linecap="butt" stroke-linejoin="round"/>
<path d="M550.3 790.0 C551.2 790.5 553.6 793.0 555.8 793.0 C558.0 793.0 561.3 791.9 563.3 790.0 C565.2 788.1 565.8 784.8 567.5 781.7 C569.2 778.7 570.1 774.6 573.3 771.7 C576.5 768.8 582.5 765.5 586.7 764.2 C590.9 763.0 595.2 763.2 598.3 764.2 C601.3 765.2 603.9 769.0 605.0 770.0" fill="none" stroke="#fff" stroke-width="2.00" stroke-linecap="butt" stroke-linejoin="round"/>
<path d="M605.0 770.0 L650.0 861.7" fill="none" stroke="#fff" stroke-width="2.00" stroke-linecap="butt" stroke-linejoin="round"/>
<path d="M566.7 786.0 C568.1 789.2 567.9 791.7 575.0 805.0 C582.1 818.3 603.5 855.7 609.2 865.8" fill="none" stroke="#fff" stroke-width="2.00" stroke-linecap="butt" stroke-linejoin="round"/>
</g>
<polygon points="930.8,364.2 962.2,353.0 963.3,356.2 931.9,367.4" fill="#4A88C7" />
<polygon points="529.2,928.0 531.8,928.0 531.8,961.0 529.2,961.0" fill="#4A88C7" />
<g id="labels" fill="#fff">
<text transform="translate(405.0 168.0) rotate(38.0)" font-size="10.0" font-weight="normal" stroke="#fff" stroke-width="0.55" text-anchor="middle" dy="0.36em" textLength="20.0" lengthAdjust="spacingAndGlyphs">AYE</text>
<text transform="translate(543.0 228.8) rotate(30.0)" font-size="10.0" font-weight="normal" stroke="#fff" stroke-width="0.55" text-anchor="middle" dy="0.36em" textLength="20.0" lengthAdjust="spacingAndGlyphs">AYE</text>
<text transform="translate(704.0 352.5) rotate(27.0)" font-size="10.0" font-weight="normal" stroke="#fff" stroke-width="0.55" text-anchor="middle" dy="0.36em" textLength="20.0" lengthAdjust="spacingAndGlyphs">AYE</text>
<text transform="translate(862.0 393.3) rotate(31.0)" font-size="10.0" font-weight="normal" stroke="#fff" stroke-width="0.55" text-anchor="middle" dy="0.36em" textLength="20.0" lengthAdjust="spacingAndGlyphs">AYE</text>
<text transform="translate(1080.0 558.3) rotate(30.0)" font-size="10.0" font-weight="normal" stroke="#fff" stroke-width="0.55" text-anchor="middle" dy="0.36em" textLength="20.0" lengthAdjust="spacingAndGlyphs">AYE</text>
<text transform="translate(1314.3 654.2) rotate(30.0)" font-size="10.0" font-weight="normal" stroke="#fff" stroke-width="0.55" text-anchor="middle" dy="0.36em" textLength="20.0" lengthAdjust="spacingAndGlyphs">AYE</text>
<text transform="translate(646.3 92.5) rotate(-90.0)" font-size="10.0" font-weight="normal" stroke="#fff" stroke-width="0.55" text-anchor="middle" dy="0.36em" textLength="82.5" lengthAdjust="spacingAndGlyphs">CLEMENTI ROAD</text>
<text transform="translate(598.7 484.0) rotate(-66.0)" font-size="10.0" font-weight="normal" stroke="#fff" stroke-width="0.55" text-anchor="middle" dy="0.36em" textLength="84.0" lengthAdjust="spacingAndGlyphs">CLEMENTI ROAD</text>
<text transform="translate(512.0 863.5) rotate(-90.0)" font-size="10.0" font-weight="normal" stroke="#fff" stroke-width="0.55" text-anchor="middle" dy="0.36em" textLength="83.0" lengthAdjust="spacingAndGlyphs">CLEMENTI ROAD</text>
<text transform="translate(915.0 48.0) rotate(58.3)" font-size="10.0" font-weight="normal" stroke="#fff" stroke-width="0.55" text-anchor="middle" dy="0.36em" textLength="78.0" lengthAdjust="spacingAndGlyphs">COLLEGE AVE E</text>
<text transform="translate(767.0 306.7) rotate(29.0)" font-size="10.0" font-weight="normal" stroke="#fff" stroke-width="0.55" text-anchor="middle" dy="0.36em" textLength="83.0" lengthAdjust="spacingAndGlyphs">COLLEGE AVE W</text>
<text transform="translate(1002.8 256.5) rotate(37.7)" font-size="10.0" font-weight="normal" stroke="#fff" stroke-width="0.55" text-anchor="middle" dy="0.36em" textLength="60.0" lengthAdjust="spacingAndGlyphs">CREATE WY</text>
<text transform="translate(661.7 562.5) rotate(20.0)" font-size="10.0" font-weight="normal" stroke="#fff" stroke-width="0.55" text-anchor="middle" dy="0.36em" textLength="92.0" lengthAdjust="spacingAndGlyphs">KENT RIDGE CRES</text>
<text transform="translate(628.3 1058.0) rotate(0.0)" font-size="10.0" font-weight="normal" stroke="#fff" stroke-width="0.55" text-anchor="middle" dy="0.36em" textLength="91.7" lengthAdjust="spacingAndGlyphs">KENT RIDGE CRES</text>
<path id="krc3" d="M946.5 811 Q973.5 768 986.8 722" fill="none"/>
<text font-size="10" stroke="#fff" stroke-width="0.55" dy="0.36em"><textPath href="#krc3" startOffset="3" textLength="92" lengthAdjust="spacingAndGlyphs">KENT RIDGE CRES</textPath></text>
<path id="clr1" d="M931 409 Q944 372 1012 352" fill="none"/>
<text font-size="10" stroke="#fff" stroke-width="0.55" dy="0.36em"><textPath href="#clr1" startOffset="2" textLength="92" lengthAdjust="spacingAndGlyphs">COLLEGE LINK RD</textPath></text>
<path id="clr2" d="M973 590 Q976 545 953 500" fill="none"/>
<text font-size="10" stroke="#fff" stroke-width="0.55" dy="0.36em"><textPath href="#clr2" startOffset="0" textLength="90" lengthAdjust="spacingAndGlyphs">COLLEGE LINK RD</textPath></text>
<text transform="translate(832.8 189.2) rotate(0.0)" font-size="8.6" font-weight="bold" text-anchor="middle" textLength="54.0" lengthAdjust="spacingAndGlyphs" >UNIVERSITY</text>
<text transform="translate(832.8 199.8) rotate(0.0)" font-size="8.6" font-weight="bold" text-anchor="middle" textLength="27.5" lengthAdjust="spacingAndGlyphs" >TOWN</text>
<text transform="translate(678.8 665.0) rotate(0.0)" font-size="8.6" font-weight="bold" text-anchor="middle" dy="0.36em">E3A</text>
<text transform="translate(645.5 683.0) rotate(0.0)" font-size="8.6" font-weight="bold" text-anchor="middle" dy="0.36em">LT7</text>
<text transform="translate(620.0 751.7) rotate(65.0)" font-size="8.6" font-weight="bold" text-anchor="middle" dy="0.36em">E1A</text>
<text transform="translate(655.8 755.0) rotate(65.0)" font-size="8.6" font-weight="bold" text-anchor="middle" dy="0.36em">E2</text>
<text transform="translate(708.8 746.7) rotate(65.0)" font-size="8.6" font-weight="bold" text-anchor="middle" dy="0.36em">E3</text>
<text transform="translate(781.3 771.0) rotate(65.0)" font-size="8.6" font-weight="bold" text-anchor="middle" dy="0.36em">E8</text>
<text transform="translate(728.8 806.2) rotate(20.0)" font-size="8.6" font-weight="bold" text-anchor="middle" dy="0.36em">LT6</text>
<text transform="translate(791.0 821.7) rotate(20.0)" font-size="8.6" font-weight="bold" text-anchor="middle" dy="0.36em">E4</text>
<text transform="translate(756.0 835.2) rotate(20.0)" font-size="8.6" font-weight="bold" text-anchor="middle" dy="0.36em">E5</text>
<text transform="translate(648.0 812.8) rotate(65.0)" font-size="8.6" font-weight="bold" text-anchor="middle" dy="0.36em">E1</text>
<text transform="translate(611.3 829.2) rotate(65.0)" font-size="8.6" font-weight="bold" text-anchor="middle" dy="0.36em">EW1</text>
<text transform="translate(868.0 830.0) rotate(-25.0)" font-size="8.6" font-weight="bold" text-anchor="middle" dy="0.36em">E7</text>
<text transform="translate(606.3 945.0) rotate(-72.0)" font-size="8.6" font-weight="bold" text-anchor="middle" dy="0.36em">SDE2</text>
<text transform="translate(577.5 997.5) rotate(18.0)" font-size="8.6" font-weight="bold" text-anchor="middle" dy="0.36em">SDE4</text>
<text transform="translate(690.0 886.5) rotate(-27.0)" font-size="8.6" font-weight="bold" text-anchor="middle" dy="0.36em">TECHNO</text>
<text transform="translate(695.5 897.5) rotate(-27.0)" font-size="8.6" font-weight="bold" text-anchor="middle" dy="0.36em">EDGE</text>
<text transform="translate(802.8 132.8) rotate(0.0)" font-size="8.6" font-weight="bold" text-anchor="middle" dy="0.36em" textLength="52.3" lengthAdjust="spacingAndGlyphs" stroke="#1a1a1a" stroke-width="1.6" paint-order="stroke" stroke-linejoin="round">EDUCATION</text>
<text transform="translate(802.8 143.8) rotate(0.0)" font-size="8.6" font-weight="bold" text-anchor="middle" dy="0.36em" textLength="50.5" lengthAdjust="spacingAndGlyphs" stroke="#1a1a1a" stroke-width="1.6" paint-order="stroke" stroke-linejoin="round">RESOURCE</text>
<text transform="translate(802.8 154.7) rotate(0.0)" font-size="8.6" font-weight="bold" text-anchor="middle" dy="0.36em" textLength="37.0" lengthAdjust="spacingAndGlyphs" stroke="#1a1a1a" stroke-width="1.6" paint-order="stroke" stroke-linejoin="round">CENTRE</text>
<text transform="translate(740.7 215.2) rotate(59.0)" font-size="8.6" font-weight="bold" text-anchor="middle" dy="0.36em" textLength="72.0" lengthAdjust="spacingAndGlyphs" stroke="#1a1a1a" stroke-width="1.6" paint-order="stroke" stroke-linejoin="round">STEPHEN RIADY</text>
<text transform="translate(731.2 222.2) rotate(59.0)" font-size="8.6" font-weight="bold" text-anchor="middle" dy="0.36em" textLength="36.0" lengthAdjust="spacingAndGlyphs" stroke="#1a1a1a" stroke-width="1.6" paint-order="stroke" stroke-linejoin="round">CENTRE</text>
<text transform="translate(805.4 250.0) rotate(37.0)" font-size="8.6" font-weight="bold" text-anchor="middle" dy="0.36em" stroke="#1a1a1a" stroke-width="1.6" paint-order="stroke" stroke-linejoin="round">LT51</text>
<text transform="translate(781.7 268.0) rotate(37.0)" font-size="8.6" font-weight="bold" text-anchor="middle" dy="0.36em" stroke="#1a1a1a" stroke-width="1.6" paint-order="stroke" stroke-linejoin="round">LT52</text>
<text transform="translate(819.0 296.0) rotate(37.0)" font-size="8.6" font-weight="bold" text-anchor="middle" dy="0.36em" stroke="#1a1a1a" stroke-width="1.6" paint-order="stroke" stroke-linejoin="round">LT53</text>
<text transform="translate(578.0 847.5) rotate(65.0)" font-size="8.6" font-weight="bold" text-anchor="middle" dy="0.36em" stroke="#1a1a1a" stroke-width="1.6" paint-order="stroke" stroke-linejoin="round">SDE3</text>
<g transform="translate(1017.4 585.9) rotate(-68.5)" font-size="8.6" font-weight="bold" text-anchor="middle">
<text x="0" y="-11.0" textLength="66" lengthAdjust="spacingAndGlyphs">THE SATELLITE</text>
<text x="0" y="-1.6" textLength="85.5" lengthAdjust="spacingAndGlyphs">TECHNOLOGY AND</text>
<text x="0" y="7.8" textLength="82.5" lengthAdjust="spacingAndGlyphs">RESEARCH (STAR)</text>
<text x="0" y="17.2" textLength="35.6" lengthAdjust="spacingAndGlyphs">CENTRE</text>
</g>
</g>
</g>
<g id="pins">
<ellipse cx="544.7" cy="570.9" rx="4.8" ry="1.6" fill="#000" opacity="0.34" filter="url(#blur1)"/>
<path d="M544.70 570.30 Q541.83 567.37 539.48 563.80 A6.70 6.70 0 1 1 549.92 563.80 Q547.57 567.37 544.70 570.30 Z" fill="#4F8FD0" stroke="#4F8FD0" stroke-width="0.8" stroke-linejoin="round"/>
<g>
<rect x="542.28" y="562.29" width="1.15" height="1.69" rx="0.29" fill="#fff"/>
<rect x="545.97" y="562.29" width="1.15" height="1.69" rx="0.29" fill="#fff"/>
<path d="M541.82 558.16 Q541.82 557.15 542.83 557.15 L546.57 557.15 Q547.58 557.15 547.58 558.16 L547.58 563.20 L541.82 563.20 Z" fill="#fff"/>
<rect x="543.09" y="557.57" width="3.23" height="0.42" rx="0.18" fill="#4F8FD0"/>
<rect x="542.51" y="558.36" width="4.38" height="2.18" rx="0.35" fill="#4F8FD0"/>
<circle cx="542.97" cy="561.75" r="0.43" fill="#4F8FD0"/>
<circle cx="546.43" cy="561.75" r="0.43" fill="#4F8FD0"/>
</g>
<ellipse cx="567.5" cy="583.4" rx="4.8" ry="1.6" fill="#000" opacity="0.34" filter="url(#blur1)"/>
<path d="M567.50 582.80 Q564.63 579.87 562.28 576.30 A6.70 6.70 0 1 1 572.72 576.30 Q570.37 579.87 567.50 582.80 Z" fill="#4F8FD0" stroke="#4F8FD0" stroke-width="0.8" stroke-linejoin="round"/>
<g>
<rect x="565.08" y="574.79" width="1.15" height="1.69" rx="0.29" fill="#fff"/>
<rect x="568.77" y="574.79" width="1.15" height="1.69" rx="0.29" fill="#fff"/>
<path d="M564.62 570.66 Q564.62 569.65 565.63 569.65 L569.37 569.65 Q570.38 569.65 570.38 570.66 L570.38 575.70 L564.62 575.70 Z" fill="#fff"/>
<rect x="565.89" y="570.07" width="3.23" height="0.42" rx="0.18" fill="#4F8FD0"/>
<rect x="565.31" y="570.86" width="4.38" height="2.18" rx="0.35" fill="#4F8FD0"/>
<circle cx="565.77" cy="574.25" r="0.43" fill="#4F8FD0"/>
<circle cx="569.23" cy="574.25" r="0.43" fill="#4F8FD0"/>
</g>
<ellipse cx="810.5" cy="584.1" rx="4.8" ry="1.6" fill="#000" opacity="0.34" filter="url(#blur1)"/>
<path d="M810.50 583.50 Q807.63 580.57 805.28 577.00 A6.70 6.70 0 1 1 815.72 577.00 Q813.37 580.57 810.50 583.50 Z" fill="#4F8FD0" stroke="#4F8FD0" stroke-width="0.8" stroke-linejoin="round"/>
<g>
<rect x="808.08" y="575.49" width="1.15" height="1.69" rx="0.29" fill="#fff"/>
<rect x="811.77" y="575.49" width="1.15" height="1.69" rx="0.29" fill="#fff"/>
<path d="M807.62 571.36 Q807.62 570.35 808.63 570.35 L812.37 570.35 Q813.38 570.35 813.38 571.36 L813.38 576.40 L807.62 576.40 Z" fill="#fff"/>
<rect x="808.89" y="570.77" width="3.23" height="0.42" rx="0.18" fill="#4F8FD0"/>
<rect x="808.31" y="571.56" width="4.38" height="2.18" rx="0.35" fill="#4F8FD0"/>
<circle cx="808.77" cy="574.95" r="0.43" fill="#4F8FD0"/>
<circle cx="812.23" cy="574.95" r="0.43" fill="#4F8FD0"/>
</g>
<ellipse cx="931.7" cy="809.1" rx="4.8" ry="1.6" fill="#000" opacity="0.34" filter="url(#blur1)"/>
<path d="M931.70 808.50 Q928.83 805.57 926.48 802.00 A6.70 6.70 0 1 1 936.92 802.00 Q934.57 805.57 931.70 808.50 Z" fill="#4F8FD0" stroke="#4F8FD0" stroke-width="0.8" stroke-linejoin="round"/>
<g>
<rect x="929.28" y="800.49" width="1.15" height="1.69" rx="0.29" fill="#fff"/>
<rect x="932.97" y="800.49" width="1.15" height="1.69" rx="0.29" fill="#fff"/>
<path d="M928.82 796.36 Q928.82 795.35 929.83 795.35 L933.57 795.35 Q934.58 795.35 934.58 796.36 L934.58 801.40 L928.82 801.40 Z" fill="#fff"/>
<rect x="930.09" y="795.77" width="3.23" height="0.42" rx="0.18" fill="#4F8FD0"/>
<rect x="929.51" y="796.56" width="4.38" height="2.18" rx="0.35" fill="#4F8FD0"/>
<circle cx="929.97" cy="799.95" r="0.43" fill="#4F8FD0"/>
<circle cx="933.43" cy="799.95" r="0.43" fill="#4F8FD0"/>
</g>
<ellipse cx="496.2" cy="953.6" rx="4.8" ry="1.6" fill="#000" opacity="0.34" filter="url(#blur1)"/>
<path d="M496.20 953.00 Q493.33 950.07 490.98 946.50 A6.70 6.70 0 1 1 501.42 946.50 Q499.07 950.07 496.20 953.00 Z" fill="#4F8FD0" stroke="#4F8FD0" stroke-width="0.8" stroke-linejoin="round"/>
<g>
<rect x="493.78" y="944.99" width="1.15" height="1.69" rx="0.29" fill="#fff"/>
<rect x="497.47" y="944.99" width="1.15" height="1.69" rx="0.29" fill="#fff"/>
<path d="M493.32 940.86 Q493.32 939.85 494.33 939.85 L498.07 939.85 Q499.08 939.85 499.08 940.86 L499.08 945.90 L493.32 945.90 Z" fill="#fff"/>
<rect x="494.59" y="940.27" width="3.23" height="0.42" rx="0.18" fill="#4F8FD0"/>
<rect x="494.01" y="941.06" width="4.38" height="2.18" rx="0.35" fill="#4F8FD0"/>
<circle cx="494.47" cy="944.45" r="0.43" fill="#4F8FD0"/>
<circle cx="497.93" cy="944.45" r="0.43" fill="#4F8FD0"/>
</g>
<ellipse cx="525.8" cy="957.1" rx="4.8" ry="1.6" fill="#000" opacity="0.34" filter="url(#blur1)"/>
<path d="M525.80 956.50 Q522.93 953.57 520.58 950.00 A6.70 6.70 0 1 1 531.02 950.00 Q528.67 953.57 525.80 956.50 Z" fill="#4F8FD0" stroke="#4F8FD0" stroke-width="0.8" stroke-linejoin="round"/>
<g>
<rect x="523.38" y="948.49" width="1.15" height="1.69" rx="0.29" fill="#fff"/>
<rect x="527.07" y="948.49" width="1.15" height="1.69" rx="0.29" fill="#fff"/>
<path d="M522.92 944.36 Q522.92 943.35 523.93 943.35 L527.67 943.35 Q528.68 943.35 528.68 944.36 L528.68 949.40 L522.92 949.40 Z" fill="#fff"/>
<rect x="524.19" y="943.77" width="3.23" height="0.42" rx="0.18" fill="#4F8FD0"/>
<rect x="523.61" y="944.56" width="4.38" height="2.18" rx="0.35" fill="#4F8FD0"/>
<circle cx="524.07" cy="947.95" r="0.43" fill="#4F8FD0"/>
<circle cx="527.53" cy="947.95" r="0.43" fill="#4F8FD0"/>
</g>
<ellipse cx="662.6" cy="1036.6" rx="4.8" ry="1.6" fill="#000" opacity="0.34" filter="url(#blur1)"/>
<path d="M662.60 1036.00 Q659.73 1033.07 657.38 1029.50 A6.70 6.70 0 1 1 667.82 1029.50 Q665.47 1033.07 662.60 1036.00 Z" fill="#4F8FD0" stroke="#4F8FD0" stroke-width="0.8" stroke-linejoin="round"/>
<g>
<rect x="660.18" y="1027.99" width="1.15" height="1.69" rx="0.29" fill="#fff"/>
<rect x="663.87" y="1027.99" width="1.15" height="1.69" rx="0.29" fill="#fff"/>
<path d="M659.72 1023.86 Q659.72 1022.85 660.73 1022.85 L664.47 1022.85 Q665.48 1022.85 665.48 1023.86 L665.48 1028.90 L659.72 1028.90 Z" fill="#fff"/>
<rect x="660.99" y="1023.27" width="3.23" height="0.42" rx="0.18" fill="#4F8FD0"/>
<rect x="660.41" y="1024.06" width="4.38" height="2.18" rx="0.35" fill="#4F8FD0"/>
<circle cx="660.87" cy="1027.45" r="0.43" fill="#4F8FD0"/>
<circle cx="664.33" cy="1027.45" r="0.43" fill="#4F8FD0"/>
</g>
<ellipse cx="795.5" cy="966.6" rx="4.8" ry="1.6" fill="#000" opacity="0.34" filter="url(#blur1)"/>
<path d="M795.50 966.00 Q792.63 963.07 790.28 959.50 A6.70 6.70 0 1 1 800.72 959.50 Q798.37 963.07 795.50 966.00 Z" fill="#4F8FD0" stroke="#4F8FD0" stroke-width="0.8" stroke-linejoin="round"/>
<g>
<rect x="793.08" y="957.99" width="1.15" height="1.69" rx="0.29" fill="#fff"/>
<rect x="796.77" y="957.99" width="1.15" height="1.69" rx="0.29" fill="#fff"/>
<path d="M792.62 953.86 Q792.62 952.85 793.63 952.85 L797.37 952.85 Q798.38 952.85 798.38 953.86 L798.38 958.90 L792.62 958.90 Z" fill="#fff"/>
<rect x="793.89" y="953.27" width="3.23" height="0.42" rx="0.18" fill="#4F8FD0"/>
<rect x="793.31" y="954.06" width="4.38" height="2.18" rx="0.35" fill="#4F8FD0"/>
<circle cx="793.77" cy="957.45" r="0.43" fill="#4F8FD0"/>
<circle cx="797.23" cy="957.45" r="0.43" fill="#4F8FD0"/>
</g>
<ellipse cx="793.0" cy="1013.1" rx="4.8" ry="1.6" fill="#000" opacity="0.34" filter="url(#blur1)"/>
<path d="M793.00 1012.50 Q790.13 1009.57 787.78 1006.00 A6.70 6.70 0 1 1 798.22 1006.00 Q795.87 1009.57 793.00 1012.50 Z" fill="#4F8FD0" stroke="#4F8FD0" stroke-width="0.8" stroke-linejoin="round"/>
<g>
<rect x="790.58" y="1004.49" width="1.15" height="1.69" rx="0.29" fill="#fff"/>
<rect x="794.27" y="1004.49" width="1.15" height="1.69" rx="0.29" fill="#fff"/>
<path d="M790.12 1000.36 Q790.12 999.35 791.13 999.35 L794.87 999.35 Q795.88 999.35 795.88 1000.36 L795.88 1005.40 L790.12 1005.40 Z" fill="#fff"/>
<rect x="791.39" y="999.77" width="3.23" height="0.42" rx="0.18" fill="#4F8FD0"/>
<rect x="790.81" y="1000.56" width="4.38" height="2.18" rx="0.35" fill="#4F8FD0"/>
<circle cx="791.27" cy="1003.95" r="0.43" fill="#4F8FD0"/>
<circle cx="794.73" cy="1003.95" r="0.43" fill="#4F8FD0"/>
</g>
<ellipse cx="948.3" cy="358.6" rx="10.4" ry="3.5" fill="#000" opacity="0.34" filter="url(#blur1)"/>
<path d="M948.30 358.00 Q941.89 350.78 936.65 341.96 A14.40 14.40 0 1 1 959.95 341.96 Q954.71 350.78 948.30 358.00 Z" fill="#70D1E9" stroke="#70D1E9" stroke-width="0.8" stroke-linejoin="round"/>
<g>
<rect x="943.10" y="339.29" width="2.48" height="3.64" rx="0.62" fill="#fff"/>
<rect x="951.02" y="339.29" width="2.48" height="3.64" rx="0.62" fill="#fff"/>
<path d="M942.11 330.40 Q942.11 328.23 944.28 328.23 L952.32 328.23 Q954.49 328.23 954.49 330.40 L954.49 341.24 L942.11 341.24 Z" fill="#fff"/>
<rect x="944.83" y="329.14" width="6.94" height="0.91" rx="0.39" fill="#70D1E9"/>
<rect x="943.59" y="330.83" width="9.41" height="4.68" rx="0.74" fill="#70D1E9"/>
<circle cx="944.58" cy="338.12" r="0.93" fill="#70D1E9"/>
<circle cx="952.02" cy="338.12" r="0.93" fill="#70D1E9"/>
</g>
<ellipse cx="1004.2" cy="672.3" rx="10.4" ry="3.5" fill="#000" opacity="0.34" filter="url(#blur1)"/>
<path d="M1004.20 671.70 Q997.79 664.48 992.55 655.66 A14.40 14.40 0 1 1 1015.85 655.66 Q1010.61 664.48 1004.20 671.70 Z" fill="#70D1E9" stroke="#70D1E9" stroke-width="0.8" stroke-linejoin="round"/>
<g>
<rect x="999.00" y="652.99" width="2.48" height="3.64" rx="0.62" fill="#fff"/>
<rect x="1006.92" y="652.99" width="2.48" height="3.64" rx="0.62" fill="#fff"/>
<path d="M998.01 644.10 Q998.01 641.93 1000.18 641.93 L1008.22 641.93 Q1010.39 641.93 1010.39 644.10 L1010.39 654.94 L998.01 654.94 Z" fill="#fff"/>
<rect x="1000.73" y="642.84" width="6.94" height="0.91" rx="0.39" fill="#70D1E9"/>
<rect x="999.49" y="644.53" width="9.41" height="4.68" rx="0.74" fill="#70D1E9"/>
<circle cx="1000.48" cy="651.82" r="0.93" fill="#70D1E9"/>
<circle cx="1007.92" cy="651.82" r="0.93" fill="#70D1E9"/>
</g>
<ellipse cx="597.3" cy="626.2" rx="10.4" ry="3.5" fill="#000" opacity="0.34" filter="url(#blur1)"/>
<path d="M597.30 625.60 Q590.89 618.38 585.65 609.56 A14.40 14.40 0 1 1 608.95 609.56 Q603.71 618.38 597.30 625.60 Z" fill="#70D1E9" stroke="#70D1E9" stroke-width="0.8" stroke-linejoin="round"/>
<g>
<rect x="592.10" y="606.89" width="2.48" height="3.64" rx="0.62" fill="#fff"/>
<rect x="600.02" y="606.89" width="2.48" height="3.64" rx="0.62" fill="#fff"/>
<path d="M591.11 598.00 Q591.11 595.83 593.28 595.83 L601.32 595.83 Q603.49 595.83 603.49 598.00 L603.49 608.84 L591.11 608.84 Z" fill="#fff"/>
<rect x="593.83" y="596.74" width="6.94" height="0.91" rx="0.39" fill="#70D1E9"/>
<rect x="592.59" y="598.43" width="9.41" height="4.68" rx="0.74" fill="#70D1E9"/>
<circle cx="593.58" cy="605.72" r="0.93" fill="#70D1E9"/>
<circle cx="601.02" cy="605.72" r="0.93" fill="#70D1E9"/>
</g>
<ellipse cx="553.3" cy="878.9" rx="10.4" ry="3.5" fill="#000" opacity="0.34" filter="url(#blur1)"/>
<path d="M553.30 878.30 Q546.89 871.08 541.65 862.26 A14.40 14.40 0 1 1 564.95 862.26 Q559.71 871.08 553.30 878.30 Z" fill="#70D1E9" stroke="#70D1E9" stroke-width="0.8" stroke-linejoin="round"/>
<g>
<rect x="548.10" y="859.59" width="2.48" height="3.64" rx="0.62" fill="#fff"/>
<rect x="556.02" y="859.59" width="2.48" height="3.64" rx="0.62" fill="#fff"/>
<path d="M547.11 850.70 Q547.11 848.53 549.28 848.53 L557.32 848.53 Q559.49 848.53 559.49 850.70 L559.49 861.54 L547.11 861.54 Z" fill="#fff"/>
<rect x="549.83" y="849.44" width="6.94" height="0.91" rx="0.39" fill="#70D1E9"/>
<rect x="548.59" y="851.13" width="9.41" height="4.68" rx="0.74" fill="#70D1E9"/>
<circle cx="549.58" cy="858.42" r="0.93" fill="#70D1E9"/>
<circle cx="557.02" cy="858.42" r="0.93" fill="#70D1E9"/>
</g>
<ellipse cx="787.9" cy="122.5" rx="11.2" ry="3.7" fill="#000" opacity="0.34" filter="url(#blur1)"/>
<path d="M787.90 121.90 Q781.25 115.10 775.80 106.79 A15.50 15.50 0 1 1 800.00 106.79 Q794.55 115.10 787.90 121.90 Z" fill="#3DAE49" stroke="#2F9140" stroke-width="0.8" stroke-linejoin="round"/>
<polygon points="787.9,89.6 790.1,95.4 796.2,95.7 791.4,99.5 793.0,105.5 787.9,102.1 782.8,105.5 784.4,99.5 779.6,95.7 785.7,95.4" fill="#fff" />
<ellipse cx="761.7" cy="224.8" rx="11.2" ry="3.7" fill="#000" opacity="0.34" filter="url(#blur1)"/>
<path d="M761.70 224.20 Q755.05 217.40 749.60 209.09 A15.50 15.50 0 1 1 773.80 209.09 Q768.35 217.40 761.70 224.20 Z" fill="#3DAE49" stroke="#2F9140" stroke-width="0.8" stroke-linejoin="round"/>
<polygon points="761.7,191.9 763.9,197.7 770.0,198.0 765.2,201.8 766.8,207.8 761.7,204.4 756.6,207.8 758.2,201.8 753.4,198.0 759.5,197.7" fill="#fff" />
<ellipse cx="837.8" cy="269.1" rx="11.0" ry="3.7" fill="#000" opacity="0.34" filter="url(#blur1)"/>
<path d="M837.80 268.50 Q831.19 261.65 825.79 253.28 A15.30 15.30 0 1 1 849.81 253.28 Q844.41 261.65 837.80 268.50 Z" fill="#F0695C" stroke="#D9584C" stroke-width="0.8" stroke-linejoin="round"/>
<polygon points="837.8,236.5 839.9,242.2 846.0,242.4 841.3,246.2 842.9,252.1 837.8,248.7 832.7,252.1 834.3,246.2 829.6,242.4 835.7,242.2" fill="#fff" />
<ellipse cx="828.3" cy="285.8" rx="11.0" ry="3.7" fill="#000" opacity="0.34" filter="url(#blur1)"/>
<path d="M828.30 285.20 Q821.69 278.35 816.29 269.98 A15.30 15.30 0 1 1 840.31 269.98 Q834.91 278.35 828.30 285.20 Z" fill="#F0695C" stroke="#D9584C" stroke-width="0.8" stroke-linejoin="round"/>
<polygon points="828.3,253.2 830.4,258.9 836.5,259.1 831.8,262.9 833.4,268.8 828.3,265.4 823.2,268.8 824.8,262.9 820.1,259.1 826.2,258.9" fill="#fff" />
<ellipse cx="997.8" cy="554.1" rx="11.1" ry="3.7" fill="#000" opacity="0.34" filter="url(#blur1)"/>
<path d="M997.80 553.50 Q991.14 546.58 985.70 538.12 A15.40 15.40 0 1 1 1009.90 538.12 Q1004.46 546.58 997.80 553.50 Z" fill="#E98023" stroke="#CF6E1A" stroke-width="0.8" stroke-linejoin="round"/>
<polygon points="997.8,521.2 999.9,526.9 1006.1,527.2 1001.3,531.0 1002.9,536.9 997.8,533.6 992.7,536.9 994.3,531.0 989.5,527.2 995.7,526.9" fill="#fff" />
<ellipse cx="626.1" cy="657.4" rx="10.9" ry="3.6" fill="#000" opacity="0.34" filter="url(#blur1)"/>
<path d="M626.10 656.80 Q619.45 649.65 614.00 640.90 A15.20 15.20 0 1 1 638.20 640.90 Q632.75 649.65 626.10 656.80 Z" fill="#E98023" stroke="#CF6E1A" stroke-width="0.8" stroke-linejoin="round"/>
<polygon points="626.1,624.4 628.2,630.1 634.3,630.3 629.5,634.1 631.1,639.9 626.1,636.6 621.1,639.9 622.7,634.1 617.9,630.3 624.0,630.1" fill="#fff" />
<ellipse cx="593.2" cy="674.2" rx="11.0" ry="3.7" fill="#000" opacity="0.34" filter="url(#blur1)"/>
<path d="M593.20 673.60 Q586.54 666.56 581.10 657.96 A15.30 15.30 0 1 1 605.30 657.96 Q599.86 666.56 593.20 673.60 Z" fill="#B2409B" stroke="#983285" stroke-width="0.8" stroke-linejoin="round"/>
<polygon points="593.2,641.3 595.3,647.0 601.4,647.2 596.7,651.0 598.3,656.9 593.2,653.5 588.1,656.9 589.7,651.0 585.0,647.2 591.1,647.0" fill="#fff" />
<ellipse cx="583.3" cy="917.0" rx="11.0" ry="3.7" fill="#000" opacity="0.34" filter="url(#blur1)"/>
<path d="M583.30 916.40 Q576.64 909.36 571.20 900.76 A15.30 15.30 0 1 1 595.40 900.76 Q589.96 909.36 583.30 916.40 Z" fill="#E98023" stroke="#CF6E1A" stroke-width="0.8" stroke-linejoin="round"/>
<polygon points="583.3,884.1 585.4,889.8 591.5,890.0 586.8,893.8 588.4,899.7 583.3,896.3 578.2,899.7 579.8,893.8 575.1,890.0 581.2,889.8" fill="#fff" />
</g>
<g fill="#fff">
<text x="960.6" y="335.8" font-size="8.6" font-weight="bold" text-anchor="start" stroke="#1a1a1a" stroke-width="1.6" paint-order="stroke" stroke-linejoin="round" textLength="26.6" lengthAdjust="spacingAndGlyphs">TOWN</text>
<text x="959.6" y="344.8" font-size="8.6" font-weight="bold" text-anchor="start" stroke="#1a1a1a" stroke-width="1.6" paint-order="stroke" stroke-linejoin="round" textLength="28.2" lengthAdjust="spacingAndGlyphs">PLAZA</text>
<text x="1013.3" y="653.3" font-size="8.6" font-weight="bold" text-anchor="start" stroke="#1a1a1a" stroke-width="1.6" paint-order="stroke" stroke-linejoin="round" textLength="36.0" lengthAdjust="spacingAndGlyphs">VALOUR</text>
<text x="1015.8" y="662.0" font-size="8.6" font-weight="bold" text-anchor="start" stroke="#1a1a1a" stroke-width="1.6" paint-order="stroke" stroke-linejoin="round" textLength="31.0" lengthAdjust="spacingAndGlyphs">HOUSE</text>
<text x="609.9" y="600.8" font-size="8.6" font-weight="bold" text-anchor="start" stroke="#1a1a1a" stroke-width="1.6" paint-order="stroke" stroke-linejoin="round" textLength="11.6" lengthAdjust="spacingAndGlyphs">EA</text>
<text x="605.5" y="676.0" font-size="8.6" font-weight="bold" text-anchor="start" stroke="#1a1a1a" stroke-width="1.6" paint-order="stroke" stroke-linejoin="round" textLength="12.0" lengthAdjust="spacingAndGlyphs">EA</text>
<text x="542.5" y="888.3" font-size="8.6" font-weight="bold" text-anchor="start" stroke="#1a1a1a" stroke-width="1.6" paint-order="stroke" stroke-linejoin="round" textLength="18.3" lengthAdjust="spacingAndGlyphs">SDE</text>
</g>
<g id="text" fill="#fff">
<text x="105.0" y="216.7" font-size="23.4" font-weight="bold" textLength="200.7" lengthAdjust="spacingAndGlyphs">Project Showcase</text>
<rect x="104.5" y="223.1" width="202.2" height="1.8" fill="#3DAE49"/>
<text x="131.7" y="254.0" font-size="17.6" stroke="#fff" stroke-width="0.3" textLength="285.0" lengthAdjust="spacingAndGlyphs">Innovation &amp; Robotics Showcase @</text>
<text x="131.7" y="273.0" font-size="17.6" stroke="#fff" stroke-width="0.3" textLength="221.0" lengthAdjust="spacingAndGlyphs">Education Resource Centre</text>
<text x="131.7" y="292.0" font-size="17.6" stroke="#fff" stroke-width="0.3" textLength="235.6" lengthAdjust="spacingAndGlyphs">Programme Booths @ UTown</text>
<text x="131.7" y="311.0" font-size="17.6" stroke="#fff" stroke-width="0.3" textLength="286.6" lengthAdjust="spacingAndGlyphs">Stephen Riady Centre, Sports Hall 1</text>
<circle cx="117.4" cy="248.0" r="3.2"/>
<circle cx="117.4" cy="286.0" r="3.2"/>
<text x="1204.5" y="291.3" font-size="23.4" font-weight="bold" textLength="297.3" lengthAdjust="spacingAndGlyphs">Talks, Happening @ UTown</text>
<rect x="1204.0" y="300.1" width="298.8" height="1.8" fill="#F0695C"/>
<text x="1231.3" y="336.3" font-size="17.6" stroke="#fff" stroke-width="0.3" textLength="162.5" lengthAdjust="spacingAndGlyphs">UTown Auditorium 2</text>
<text x="1231.3" y="355.2" font-size="17.6" stroke="#fff" stroke-width="0.3" textLength="272.5" lengthAdjust="spacingAndGlyphs">Stephen Riady Lecture Theatre 51</text>
<text x="1231.3" y="374.2" font-size="17.6" stroke="#fff" stroke-width="0.3" textLength="273.2" lengthAdjust="spacingAndGlyphs">Stephen Riady Lecture Theatre 52</text>
<text x="1231.3" y="393.1" font-size="17.6" stroke="#fff" stroke-width="0.3" textLength="273.2" lengthAdjust="spacingAndGlyphs">Stephen Riady Lecture Theatre 53</text>
<circle cx="1217.3" cy="330.4" r="3.2"/>
<circle cx="1217.3" cy="349.4" r="3.2"/>
<circle cx="1217.3" cy="368.3" r="3.2"/>
<circle cx="1217.3" cy="387.3" r="3.2"/>
<text x="104.5" y="616.3" font-size="23.4" font-weight="bold" textLength="305.5" lengthAdjust="spacingAndGlyphs">Workshops @ CDE Campus</text>
<rect x="104.0" y="624.9" width="307.0" height="1.8" fill="#B2409B"/>
<text x="131.3" y="653.8" font-size="17.6" stroke="#fff" stroke-width="0.3" textLength="319.2" lengthAdjust="spacingAndGlyphs">Chemical Engineering: Miniaturised and</text>
<text x="131.3" y="672.7" font-size="17.6" stroke="#fff" stroke-width="0.3" textLength="208.7" lengthAdjust="spacingAndGlyphs">Bioresorbable Pacemaker</text>
<text x="131.3" y="691.8" font-size="17.6" stroke="#fff" stroke-width="0.3" textLength="326.2" lengthAdjust="spacingAndGlyphs">Civil Engineering: Tall Building Challenge</text>
<text x="131.3" y="710.8" font-size="17.6" stroke="#fff" stroke-width="0.3" textLength="243.2" lengthAdjust="spacingAndGlyphs">Environmental &amp; Sustainability</text>
<text x="131.3" y="729.8" font-size="17.6" stroke="#fff" stroke-width="0.3" textLength="245.5" lengthAdjust="spacingAndGlyphs">Engineering: The F1 Challenge</text>
<text x="131.3" y="748.8" font-size="17.6" stroke="#fff" stroke-width="0.3" textLength="280.5" lengthAdjust="spacingAndGlyphs">Electrical &amp; Computer Engineering:</text>
<text x="131.3" y="767.8" font-size="17.6" stroke="#fff" stroke-width="0.3" textLength="327.5" lengthAdjust="spacingAndGlyphs">Shaping Signals- From Circuits to Sound</text>
<circle cx="117.5" cy="648.2" r="3.2"/>
<circle cx="117.5" cy="686.2" r="3.2"/>
<circle cx="117.5" cy="705.2" r="3.2"/>
<circle cx="117.5" cy="743.2" r="3.2"/>
<text x="1017.7" y="785.8" font-size="23.4" font-weight="bold" textLength="242.3" lengthAdjust="spacingAndGlyphs">Tours @ CDE Campus</text>
<rect x="1017.2" y="795.1" width="243.8" height="1.8" fill="#E98023"/>
<text x="1017.7" y="827.7" font-size="17.6" stroke="#fff" stroke-width="0.3" textLength="23.0" lengthAdjust="spacingAndGlyphs">EA</text>
<text x="1117.7" y="827.7" font-size="17.6" stroke="#fff" stroke-width="0.3" textLength="239.0" lengthAdjust="spacingAndGlyphs">Innovation &amp; Design Hub Tour</text>
<text x="1017.7" y="853.7" font-size="17.6" stroke="#fff" stroke-width="0.3" textLength="44.6" lengthAdjust="spacingAndGlyphs">SDE3</text>
<text x="1117.7" y="853.7" font-size="17.6" stroke="#fff" stroke-width="0.3" textLength="460.0" lengthAdjust="spacingAndGlyphs">Architecture, Landscape Architecture &amp; Industrial Design:</text>
<text x="1117.7" y="879.7" font-size="17.6" stroke="#fff" stroke-width="0.3" textLength="246.3" lengthAdjust="spacingAndGlyphs">Design Learning Facilities Tour</text>
<text x="1017.7" y="905.7" font-size="17.6" stroke="#fff" stroke-width="0.3" textLength="44.6" lengthAdjust="spacingAndGlyphs">SDE3</text>
<text x="1117.7" y="905.7" font-size="17.6" stroke="#fff" stroke-width="0.3" textLength="374.6" lengthAdjust="spacingAndGlyphs">Architecture Exhibition: Assembling The Social</text>
<text x="1017.7" y="931.7" font-size="17.6" stroke="#fff" stroke-width="0.3" textLength="23.0" lengthAdjust="spacingAndGlyphs">EA</text>
<text x="1117.7" y="931.7" font-size="17.6" stroke="#fff" stroke-width="0.3" textLength="366.3" lengthAdjust="spacingAndGlyphs">Biomedical Engineering: iHealthtech Lab Tour</text>
<text x="1017.7" y="957.7" font-size="17.6" stroke="#fff" stroke-width="0.3" textLength="23.0" lengthAdjust="spacingAndGlyphs">EA</text>
<text x="1117.7" y="957.7" font-size="17.6" stroke="#fff" stroke-width="0.3" textLength="354.0" lengthAdjust="spacingAndGlyphs">Materials Science and Engineering Lab Tour</text>
<text x="1017.7" y="983.7" font-size="17.6" stroke="#fff" stroke-width="0.3" textLength="23.0" lengthAdjust="spacingAndGlyphs">EA</text>
<text x="1117.7" y="983.7" font-size="17.6" stroke="#fff" stroke-width="0.3" textLength="268.0" lengthAdjust="spacingAndGlyphs">Mechanical Engineering Lab Tour</text>
<text x="1017.7" y="1009.7" font-size="17.6" stroke="#fff" stroke-width="0.3" textLength="44.0" lengthAdjust="spacingAndGlyphs">STAR</text>
<text x="1117.7" y="1009.7" font-size="17.6" stroke="#fff" stroke-width="0.3" textLength="280.6" lengthAdjust="spacingAndGlyphs">Electrical &amp; Computer Engineering:</text>
<text x="1117.7" y="1035.7" font-size="17.6" stroke="#fff" stroke-width="0.3" textLength="469.0" lengthAdjust="spacingAndGlyphs">The Satellite Technology and Research (STAR) Centre Tour</text>
<text x="87.8" y="915.3" font-size="14.4" stroke="#fff" stroke-width="0.3" textLength="177.2" lengthAdjust="spacingAndGlyphs">NUS Hop-On-Hop-Off Bus</text>
<text x="110.5" y="942.2" font-size="14.4" stroke="#fff" stroke-width="0.3" textLength="75.7" lengthAdjust="spacingAndGlyphs">Town Plaza</text>
<text x="110.5" y="959.2" font-size="14.4" stroke="#fff" stroke-width="0.3" textLength="88.3" lengthAdjust="spacingAndGlyphs">Valour House</text>
<text x="110.5" y="976.2" font-size="14.4" stroke="#fff" stroke-width="0.3" textLength="182.8" lengthAdjust="spacingAndGlyphs">Design &amp; Engineering at EA</text>
<text x="110.5" y="993.3" font-size="14.4" stroke="#fff" stroke-width="0.3" textLength="193.3" lengthAdjust="spacingAndGlyphs">Design &amp; Engineering at SDE</text>
<circle cx="98.7" cy="937.2" r="2.8"/>
<circle cx="98.7" cy="954.2" r="2.8"/>
<circle cx="98.7" cy="971.2" r="2.8"/>
<circle cx="98.7" cy="988.3" r="2.8"/>
<text x="87.8" y="1026.3" font-size="14.4" stroke="#fff" stroke-width="0.3" textLength="71.9" lengthAdjust="spacingAndGlyphs">Public Bus</text>
</g>
<path d="M66.70 927.00 Q61.70 921.94 57.60 915.76 A11.70 11.70 0 1 1 75.80 915.76 Q71.70 921.94 66.70 927.00 Z" fill="#70D1E9" stroke="#70D1E9" stroke-width="0.8" stroke-linejoin="round"/>
<g>
<rect x="62.47" y="913.10" width="2.01" height="2.96" rx="0.50" fill="#fff"/>
<rect x="68.91" y="913.10" width="2.01" height="2.96" rx="0.50" fill="#fff"/>
<path d="M61.67 905.88 Q61.67 904.12 63.43 904.12 L69.97 904.12 Q71.73 904.12 71.73 905.88 L71.73 914.69 L61.67 914.69 Z" fill="#fff"/>
<rect x="63.88" y="904.86" width="5.63" height="0.74" rx="0.32" fill="#70D1E9"/>
<rect x="62.88" y="906.23" width="7.65" height="3.80" rx="0.60" fill="#70D1E9"/>
<circle cx="63.68" cy="912.15" r="0.75" fill="#70D1E9"/>
<circle cx="69.72" cy="912.15" r="0.75" fill="#70D1E9"/>
</g>
<path d="M66.70 1036.70 Q61.70 1031.64 57.60 1025.46 A11.70 11.70 0 1 1 75.80 1025.46 Q71.70 1031.64 66.70 1036.70 Z" fill="#4F8FD0" stroke="#4F8FD0" stroke-width="0.8" stroke-linejoin="round"/>
<g>
<rect x="62.47" y="1022.80" width="2.01" height="2.96" rx="0.50" fill="#fff"/>
<rect x="68.91" y="1022.80" width="2.01" height="2.96" rx="0.50" fill="#fff"/>
<path d="M61.67 1015.58 Q61.67 1013.82 63.43 1013.82 L69.97 1013.82 Q71.73 1013.82 71.73 1015.58 L71.73 1024.39 L61.67 1024.39 Z" fill="#fff"/>
<rect x="63.88" y="1014.56" width="5.63" height="0.74" rx="0.32" fill="#4F8FD0"/>
<rect x="62.88" y="1015.93" width="7.65" height="3.80" rx="0.60" fill="#4F8FD0"/>
<circle cx="63.68" cy="1021.85" r="0.75" fill="#4F8FD0"/>
<circle cx="69.72" cy="1021.85" r="0.75" fill="#4F8FD0"/>
</g>
</svg>
</body></html>
